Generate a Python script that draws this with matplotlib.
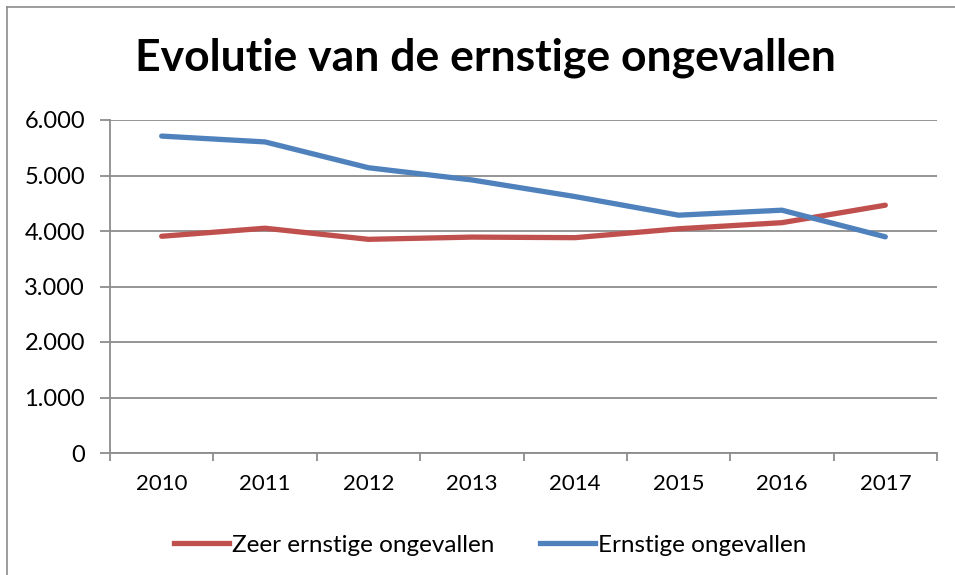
import matplotlib
matplotlib.use("Agg")
import matplotlib.pyplot as plt
from matplotlib.ticker import FuncFormatter, FixedLocator
from matplotlib.lines import Line2D

years = ["2010", "2011", "2012", "2013", "2014", "2015", "2016", "2017"]
zeer_ernstig = [3905, 4050, 3850, 3890, 3880, 4040, 4150, 4465]
ernstig = [5710, 5605, 5140, 4920, 4620, 4285, 4375, 3895]
series_names = ["Zeer ernstige ongevallen", "Ernstige ongevallen"]
title = "Evolutie van de ernstige ongevallen"

plt.rcParams['font.family'] = ['Lato', 'DejaVu Sans']

W, H = 955, 575
fig = plt.figure(figsize=(W / 100, H / 100), dpi=100)

# outer chart border (left and top visible)
fig.add_artist(Line2D([7 / W, 7 / W], [0, 1 - 7 / H], color="#8c8c8c", lw=1.2))
fig.add_artist(Line2D([7 / W, 1], [1 - 7 / H, 1 - 7 / H], color="#8c8c8c", lw=1.2))

left, right, top, bottom = 110, 937, 120, 453
ax = fig.add_axes([left / W, 1 - bottom / H, (right - left) / W, (bottom - top) / H])

x = list(range(len(years)))
ax.plot(x, zeer_ernstig, color="#C0504D", lw=3.8, solid_capstyle="round", solid_joinstyle="round")
ax.plot(x, ernstig, color="#4F81BD", lw=3.8, solid_capstyle="round", solid_joinstyle="round")

ax.set_xlim(-0.5, len(years) - 0.5)
ax.set_ylim(0, 6000)
ax.set_yticks(range(0, 6001, 1000))
ax.yaxis.set_major_formatter(FuncFormatter(lambda v, p: f"{int(v):,}".replace(",", ".")))
ax.set_xticks(x)
ax.set_xticklabels(years)
ax.xaxis.set_minor_locator(FixedLocator([i - 0.5 for i in range(len(years) + 1)]))
ax.tick_params(axis="x", which="major", length=0, pad=15, labelsize=16)
ax.tick_params(axis="x", which="minor", length=6, width=1.3, color="#8c8c8c", direction="out")
ax.tick_params(axis="y", length=7, width=1.3, color="#8c8c8c", pad=11, labelsize=17)

ax.grid(axis="y", color="#8c8c8c", lw=1.3)
ax.set_axisbelow(True)
for s in ["top", "right"]:
    ax.spines[s].set_visible(False)
for s in ["left", "bottom"]:
    ax.spines[s].set_color("#8c8c8c")
    ax.spines[s].set_linewidth(1.3)

fig.text(485 / W, 1 - 58 / H, title, ha="center", va="center", fontsize=32, fontweight="bold")

handles = [Line2D([], [], color="#C0504D", lw=3.8), Line2D([], [], color="#4F81BD", lw=3.8)]
fig.legend(handles, series_names, loc="center", bbox_to_anchor=(490 / W, 1 - 545 / H), ncol=2,
           frameon=False, fontsize=17.5, handlelength=2.26, handletextpad=0.12, columnspacing=1.9)

fig.savefig("out.png", dpi=100)
